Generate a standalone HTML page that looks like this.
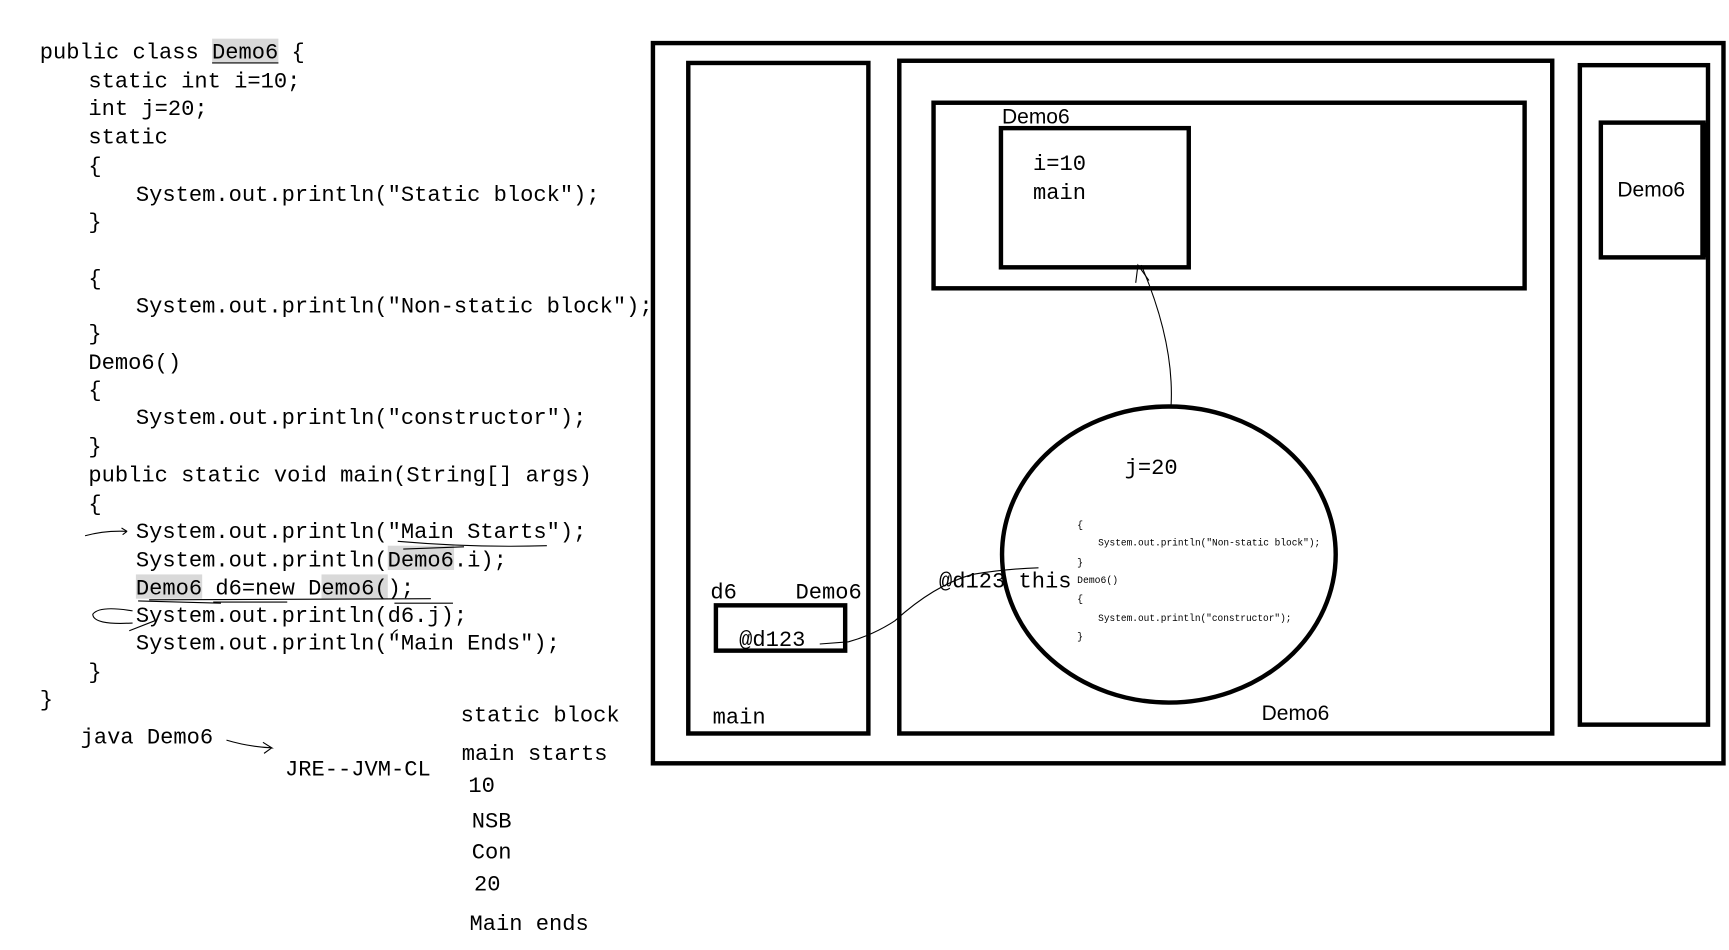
<!DOCTYPE html>
<html><head><meta charset="utf-8"><style>
html,body{margin:0;padding:0;background:#fff;}
svg{display:block;}
text{font-family:"Liberation Mono",monospace;font-size:20px;fill:#000;}
.s{font-family:"Liberation Sans",sans-serif;font-size:19px;}
.t{font-size:9px;}
</style></head><body>
<svg width="1729" height="950" viewBox="0 0 1565 860" preserveAspectRatio="none" xmlns="http://www.w3.org/2000/svg">
<rect width="1565" height="860" fill="#fff"/>
<g fill="#d9d9d9">
<rect x="192" y="35" width="60" height="22"/>
<rect x="351" y="494" width="60" height="22"/>
<rect x="123" y="520" width="60" height="22"/>
<rect x="291" y="520" width="60" height="22"/>
</g>
<g>
<text x="36" y="53">public class Demo6 {</text>
<text x="80" y="79">static int i=10;</text>
<text x="80" y="104">int j=20;</text>
<text x="80" y="130">static</text>
<text x="80" y="156">{</text>
<text x="123" y="182">System.out.println("Static block");</text>
<text x="80" y="207">}</text>
<text x="80" y="258">{</text>
<text x="123" y="283">System.out.println("Non-static block");</text>
<text x="80" y="308">}</text>
<text x="80" y="334">Demo6()</text>
<text x="80" y="359">{</text>
<text x="123" y="384">System.out.println("constructor");</text>
<text x="80" y="410">}</text>
<text x="80" y="436">public static void main(String[] args)</text>
<text x="80" y="462">{</text>
<text x="123" y="487">System.out.println("Main Starts");</text>
<text x="123" y="513">System.out.println(Demo6.i);</text>
<text x="123" y="538">Demo6 d6=new Demo6();</text>
<text x="123" y="563">System.out.println(d6.j);</text>
<text x="123" y="588">System.out.println("Main Ends");</text>
<text x="80" y="614">}</text>
<text x="36" y="639">}</text>
<text x="73" y="673">java Demo6</text>
<text x="258" y="702">JRE--JVM-CL</text>
<text x="417" y="653">static block</text>
<text x="418" y="688">main starts</text>
<text x="424" y="717">10</text>
<text x="427" y="749">NSB</text>
<text x="427" y="777">Con</text>
<text x="429" y="806">20</text>
<text x="425" y="842">Main ends</text>
</g>
<g fill="none" stroke="#000" stroke-width="1">
<line x1="192" y1="57" x2="252" y2="57"/>
<path d="M77 485 Q95 480 115 481 l-5 -3 M115 481 l-4 3"/>
<path d="M360 490 Q430 496 495 494"/>
<path d="M365 497 L420 495"/>
<path d="M135 543 L390 542"/>
<path d="M193 545 L260 545"/>
<path d="M125 544 L200 546"/>
<path d="M120 553 Q90 548 84 556 Q84 566 120 564"/>
<path d="M117 571 L140 562"/>
<path d="M357 546 L410 546"/>
<path d="M354 578 Q355 572 360 570"/>
<path d="M205 670 Q225 676 246 677 l-8 -5 M246 677 l-7 5"/>
</g>
<g fill="none" stroke="#000" stroke-width="4">
<rect x="591" y="39" width="969" height="652"/>
<rect x="623" y="57" width="163" height="607"/>
<rect x="814" y="55" width="591" height="609"/>
<rect x="845" y="93" width="535" height="168"/>
<rect x="906" y="116" width="170" height="126"/>
<rect x="1430" y="59" width="116" height="597"/>
<rect x="1449" y="111" width="93" height="122"/>
<rect x="648" y="548" width="117" height="41"/>
<ellipse cx="1058" cy="502" rx="151" ry="134"/>
</g>
<rect x="1539" y="111" width="6" height="122" fill="#000"/>
<g fill="none" stroke="#000" stroke-width="1">
<path d="M1060 367 Q1063 310 1033 240"/>
<path d="M1028 256 L1030 240 L1040 254"/>
<path d="M742 583 L768 581 Q790 575 810 562 Q845 530 880 520 Q910 515 940 514"/>
</g>
<text x="907" y="112" class="s">Demo6</text>
<text x="935" y="154">i=10</text>
<text x="935" y="180">main</text>
<text x="1464" y="178" class="s">Demo6</text>
<text x="1018" y="429">j=20</text>
<text x="850" y="532">@d123 this</text>
<text x="643" y="542">d6</text>
<text x="720" y="542">Demo6</text>
<text x="669" y="585">@d123</text>
<text x="645" y="655">main</text>
<text x="1142" y="652" class="s">Demo6</text>
<text x="975" y="478" class="t">{</text>
<text x="994" y="494" class="t" textLength="201" lengthAdjust="spacingAndGlyphs">System.out.println("Non-static block");</text>
<text x="975" y="512" class="t">}</text>
<text x="975" y="528" class="t" textLength="37" lengthAdjust="spacingAndGlyphs">Demo6()</text>
<text x="975" y="545" class="t">{</text>
<text x="994" y="562" class="t" textLength="175" lengthAdjust="spacingAndGlyphs">System.out.println("constructor");</text>
<text x="975" y="579" class="t">}</text>
</svg>
</body></html>
